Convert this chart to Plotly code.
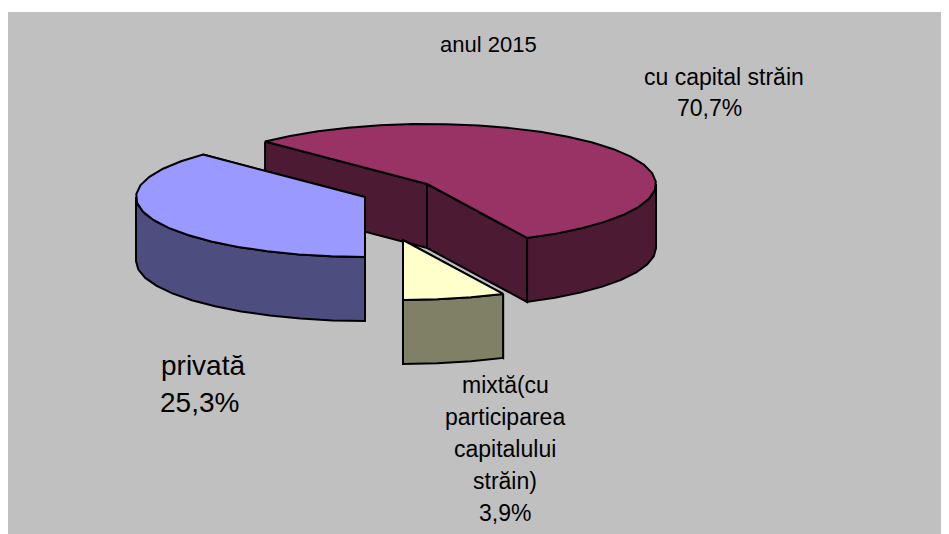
import numpy as np
import plotly.graph_objects as go

# Data: wedge sizes as drawn in the picture (% of the circle), and the printed labels
categories = ["cu capital străin", "privată", "mixtă(cu participarea capitalului străin)"]
labelled_values = ["70,7%", "25,3%", "3,9%"]
drawn_shares = [55.3, 37.5, 7.2]
title_text = "anul 2015"
mixed_lines = ["mixtă(cu", "participarea", "capitalului", "străin)"]

W, H = 949, 534
PAGE_MARGIN = 8  # the browser's default body margin
A, B, DEPTH = 229, 60, 64
START = 225.0  # param angle (deg, screen y down) at which the first wedge begins
centers = [(427, 184), (365, 197), (403, 240)]
colors = [("#993366", "#4D1A33"), ("#9999FF", "#4D4D80"), ("#FFFFCC", "#808066")]


def arc(c, t0, t1, dy=0):
    n = max(2, int(abs(t1 - t0) / 8) + 1)
    t = np.radians(np.linspace(t0, t1, n))
    return list(c[0] + A * np.cos(t)), list(c[1] + dy + B * np.sin(t))


def poly(fig, xs, ys, fill):
    fig.add_trace(go.Scatter(x=xs + xs[:1], y=ys + ys[:1], mode="lines", fill="toself",
                             fillcolor=fill, line=dict(color="black", width=2),
                             hoverinfo="skip", showlegend=False))


def wedge(fig, c, t0, t1, top, side):
    """Clockwise wedge on screen from angle t0 to t1 (t1 > t0)."""
    for t in (t0, t1):
        x, y = arc(c, t, t, 0)
        px, py = x[0], y[0]
        poly(fig, [px, c[0], c[0], px], [py, c[1], c[1] + DEPTH, py + DEPTH], side)
    # outer wall: only the part facing the viewer (sin >= 0)
    for k in range(-1, 2):
        lo = max(t0, 360 * k)
        hi = min(t1, 360 * k + 180)
        if hi > lo:
            xt, yt = arc(c, lo, hi)
            xb, yb = arc(c, hi, lo, DEPTH)
            poly(fig, xt + xb, yt + yb, side)
    xt, yt = arc(c, t0, t1)
    poly(fig, [c[0]] + xt, [c[1]] + yt, top)


fig = go.Figure()

b0 = START
b1 = b0 + drawn_shares[0] * 3.6
y0 = b1
y1 = y0 + drawn_shares[2] * 3.6
p0 = y1
p1 = p0 + drawn_shares[1] * 3.6
wedge(fig, centers[0], b0, b1, *colors[0])
wedge(fig, centers[1], p0 - 360, p1 - 360, *colors[1])
wedge(fig, centers[2], y0 - 360, y1 - 360, *colors[2])

notes = [
    (title_text, 488, 44, 22),
    (categories[0], 724, 77, 23),
    (labelled_values[0], 709, 108, 23),
    (categories[1], 203, 365, 28),
    (labelled_values[1], 199, 402, 28),
    (mixed_lines[0], 505, 385, 23),
    (mixed_lines[1], 505, 417, 23),
    (mixed_lines[2], 505, 449, 23),
    (mixed_lines[3], 505, 481, 23),
    (labelled_values[2], 505, 513, 23),
]
for text, x, y, size in notes:
    fig.add_annotation(x=x, y=y, text=text, showarrow=False, xanchor="center", yanchor="middle",
                       font=dict(family="Liberation Sans", size=size, color="black"))

fig.update_layout(
    width=W - PAGE_MARGIN, height=H - PAGE_MARGIN, autosize=False,
    margin=dict(l=0, r=0, t=0, b=0),
    paper_bgcolor="white", plot_bgcolor="white", showlegend=False,
    xaxis=dict(range=[PAGE_MARGIN, W], visible=False, fixedrange=True),
    yaxis=dict(range=[H, PAGE_MARGIN], visible=False, fixedrange=True),
    shapes=[dict(type="rect", x0=8, y0=12, x1=W, y1=H, fillcolor="#C0C0C0", line_width=0, layer="below")],
)
fig.write_html("out.html", config={"displayModeBar": False})
